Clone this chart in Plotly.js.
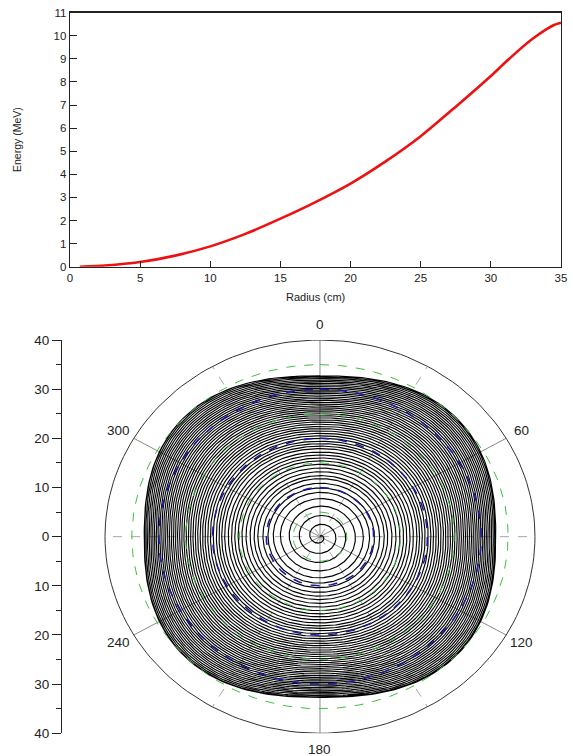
<!DOCTYPE html>
<html>
<head>
<meta charset="utf-8">
<script src="https://cdn.plot.ly/plotly-3.0.1.min.js"></script>
<style>
  html, body { margin: 0; padding: 0; background: #fff; }
  #chart { width: 573px; height: 756px; }
</style>
</head>
<body>
<div id="chart"></div>
<script>
// ---------- Top chart data: energy vs radius ----------
const radiusCm = [0.7, 2.5, 5, 7.5, 10, 12.5, 15, 17.5, 20, 22.5, 25, 27.5, 30, 31, 32, 33, 34, 34.5, 35];
const energyMeV = [0, 0.05, 0.2, 0.48, 0.88, 1.42, 2.08, 2.8, 3.6, 4.56, 5.65, 6.93, 8.26, 8.83, 9.38, 9.88, 10.3, 10.47, 10.57];
const energyTicks = [0, 1, 2, 3, 4, 5, 6, 7, 8, 9, 10, 11];
const radiusTicks = [0, 5, 10, 15, 20, 25, 30, 35];

// ---------- Bottom chart data: orbit turns (radius at 0 deg, per turn) ----------
const turnRadii = [0, 2.5, 4.3, 6.2, 7.75, 9.0, 9.9, 10.85, 11.8, 12.4, 13.2, 13.95, 14.7, 15.4, 16.0,
  16.6, 17.2, 17.9, 18.4, 18.9, 19.4, 20.0, 20.5, 21.0, 21.5, 21.95, 22.4, 22.86, 23.3, 23.74,
  24.17, 24.59, 25.0, 25.41, 25.81, 26.2, 26.59, 26.97, 27.35, 27.72, 28.09, 28.45, 28.81,
  29.16, 29.51, 29.86, 30.2, 30.54, 30.87, 31.2, 31.53, 31.85, 32.17, 32.45, 32.7];
// orbit squareness (superellipse exponent) vs radius
const shapeRadius = [0, 8, 16, 24, 32.7];
const shapeExponent = [2.0, 2.0, 2.08, 2.25, 2.5];
// reference circles
const blueCircleRadii = [10, 20, 30];
const greenCircleRadii = [5, 15, 25, 35];
const outerRadius = 40;
const angleLabels = [0, 60, 120, 180, 240, 300];
const dashedSpokeAngles = [30, 90, 150, 210, 270, 330];
const yTickVals = [-40, -30, -20, -10, 0, 10, 20, 30, 40];
const yTickText = ['40', '30', '20', '10', '0', '10', '20', '30', '40'];
const yMinorVals = [-35, -25, -15, -5, 5, 15, 25, 35];

// ---------- geometry of bottom panel (paper) ----------
const W = 573, H = 756;
const X2_DOMAIN = [62 / W, 572.6 / W], X2_RANGE = [-48, 47];
const Y2_DOMAIN = [(H - 733.3) / H, (H - 340) / H], Y2_RANGE = [-40, 40];
function toPaperX(v) { return X2_DOMAIN[0] + (v - X2_RANGE[0]) / (X2_RANGE[1] - X2_RANGE[0]) * (X2_DOMAIN[1] - X2_DOMAIN[0]); }
function toPaperY(v) { return Y2_DOMAIN[0] + (v - Y2_RANGE[0]) / (Y2_RANGE[1] - Y2_RANGE[0]) * (Y2_DOMAIN[1] - Y2_DOMAIN[0]); }

// ---------- helpers ----------
const DEG = Math.PI / 180;
function lerp(xs, ys, x) {
  if (x <= xs[0]) return ys[0];
  for (let i = 1; i < xs.length; i++) {
    if (x <= xs[i]) {
      const t = (x - xs[i - 1]) / (xs[i] - xs[i - 1]);
      return ys[i - 1] + t * (ys[i] - ys[i - 1]);
    }
  }
  return ys[ys.length - 1];
}
function shapeFactor(r, thDeg) {
  const p = lerp(shapeRadius, shapeExponent, r);
  const c = Math.abs(Math.cos(thDeg * DEG)), s = Math.abs(Math.sin(thDeg * DEG));
  return 1 / Math.pow(Math.pow(c, p) + Math.pow(s, p), 1 / p);
}
function circle(r) {
  const x = [], y = [];
  for (let a = 0; a <= 360; a += 2) { x.push(r * Math.sin(a * DEG)); y.push(r * Math.cos(a * DEG)); }
  return { x, y };
}

// ---------- orbit spiral ----------
const ox = [], oy = [];
const STEPS = 240;
for (let n = 0; n < turnRadii.length - 1; n++) {
  const r0 = turnRadii[n], r1 = turnRadii[n + 1];
  for (let k = 0; k < STEPS; k++) {
    const th = 360 * k / STEPS;
    const rb = r0 + (r1 - r0) * k / STEPS;
    const r = rb * shapeFactor(rb, th);
    ox.push(r * Math.sin(th * DEG));
    oy.push(r * Math.cos(th * DEG));
  }
}
{
  const rb = turnRadii[turnRadii.length - 1];
  for (let k = 0; k <= STEPS; k++) {
    const th = 360 * k / STEPS;
    const r = rb * shapeFactor(rb, th);
    ox.push(r * Math.sin(th * DEG));
    oy.push(r * Math.cos(th * DEG));
  }
}

const traces = [];
// top curve
traces.push({
  x: radiusCm, y: energyMeV, xaxis: 'x', yaxis: 'y', type: 'scatter', mode: 'lines',
  line: { color: '#ee1111', width: 2.6, shape: 'spline', smoothing: 0.7 },
  hoverinfo: 'skip', showlegend: false
});
// spokes
const sx = [], sy = [], dx = [], dy = [];
angleLabels.forEach(a => { sx.push(0, outerRadius * Math.sin(a * DEG), null); sy.push(0, outerRadius * Math.cos(a * DEG), null); });
dashedSpokeAngles.forEach(a => { dx.push(0, outerRadius * Math.sin(a * DEG), null); dy.push(0, outerRadius * Math.cos(a * DEG), null); });
traces.push({ x: dx, y: dy, xaxis: 'x2', yaxis: 'y2', mode: 'lines', line: { color: '#a8a8a8', width: 1, dash: 'dash' }, hoverinfo: 'skip', showlegend: false });
traces.push({ x: sx, y: sy, xaxis: 'x2', yaxis: 'y2', mode: 'lines', line: { color: '#8a8a8a', width: 1 }, hoverinfo: 'skip', showlegend: false });
// orbits
traces.push({ x: ox, y: oy, xaxis: 'x2', yaxis: 'y2', mode: 'lines', line: { color: '#000', width: 1.15 }, hoverinfo: 'skip', showlegend: false });
// green dashed circles
greenCircleRadii.forEach(r => {
  const c = circle(r);
  traces.push({ x: c.x, y: c.y, xaxis: 'x2', yaxis: 'y2', mode: 'lines', line: { color: '#3cc03c', width: 1, dash: 'dash' }, hoverinfo: 'skip', showlegend: false });
});
// blue dashed circles
blueCircleRadii.forEach(r => {
  const c = circle(r);
  traces.push({ x: c.x, y: c.y, xaxis: 'x2', yaxis: 'y2', mode: 'lines', line: { color: '#1a1a9a', width: 1.6, dash: 'dash' }, hoverinfo: 'skip', showlegend: false });
});
// outer circle
{
  const c = circle(outerRadius);
  traces.push({ x: c.x, y: c.y, xaxis: 'x2', yaxis: 'y2', mode: 'lines', line: { color: '#333', width: 1 }, hoverinfo: 'skip', showlegend: false });
}

const LABEL_R = 43.2;
const annotations = angleLabels.map(a => ({
  x: toPaperX(LABEL_R * Math.sin(a * DEG)), y: toPaperY(LABEL_R * Math.cos(a * DEG)), xref: 'paper', yref: 'paper',
  xanchor: 'center', yanchor: 'middle',
  text: String(a), showarrow: false, font: { family: 'Liberation Sans, Arial, sans-serif', size: 13.5, color: '#222' }
}));
annotations.push({
  x: 17 / W, y: 0.8148, xref: 'paper', yref: 'paper', text: 'Energy (MeV)', textangle: -90,
  xanchor: 'center', yanchor: 'middle',
  showarrow: false, font: { family: 'Liberation Sans, Arial, sans-serif', size: 10.5, color: '#222' }
});
annotations.push({
  x: 315 / W, y: (H - 297) / H, xref: 'paper', yref: 'paper', text: 'Radius (cm)',
  xanchor: 'center', yanchor: 'middle',
  showarrow: false, font: { family: 'Liberation Sans, Arial, sans-serif', size: 11, color: '#222' }
});

const tickFont = { family: 'Liberation Sans, Arial, sans-serif', size: 11.5, color: '#222' };
const layout = {
  width: W, height: H, margin: { l: 0, r: 0, t: 0, b: 0 },
  paper_bgcolor: '#fff', plot_bgcolor: '#fff', showlegend: false,
  xaxis: {
    domain: [70 / W, 561 / W], range: [0, 35], tickvals: radiusTicks, ticks: 'inside', ticklen: 6,
    tickcolor: '#222', showline: true, mirror: true, linecolor: '#222', linewidth: 1.3,
    showgrid: false, zeroline: false, tickfont: tickFont, anchor: 'y'
  },
  yaxis: {
    domain: [(H - 266.7) / H, (H - 12.7) / H], range: [0, 11], tickvals: energyTicks, ticks: 'inside',
    ticklen: 7, tickcolor: '#222', showline: true, mirror: true, linecolor: '#222', linewidth: 1.3,
    showgrid: false, zeroline: false, tickfont: tickFont, anchor: 'x'
  },
  xaxis2: { domain: X2_DOMAIN, range: X2_RANGE, visible: false, anchor: 'y2' },
  yaxis2: {
    domain: Y2_DOMAIN, range: Y2_RANGE, tickvals: yTickVals, ticktext: yTickText,
    ticks: 'outside', ticklen: 9, tickcolor: '#222', showline: true, linecolor: '#222', linewidth: 1,
    minor: { tickvals: yMinorVals, ticks: 'outside', ticklen: 5, tickcolor: '#222', showgrid: false },
    showgrid: false, zeroline: false, anchor: 'x2',
    tickfont: { family: 'Liberation Sans, Arial, sans-serif', size: 13.5, color: '#222' }
  },
  annotations
};

Plotly.newPlot('chart', traces, layout, { staticPlot: true, displayModeBar: false });
</script>
</body>
</html>
